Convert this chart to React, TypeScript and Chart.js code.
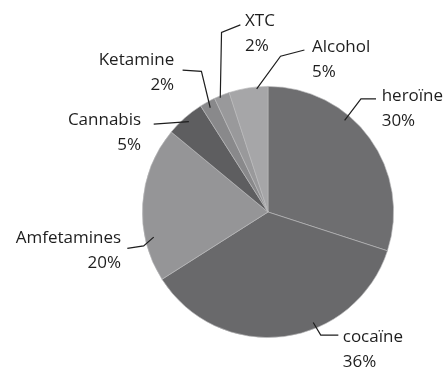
import React, { useEffect, useRef } from "react";
import { Chart, registerables } from "chart.js";

Chart.register(...registerables);

const categories = ["heroïne", "cocaïne", "Amfetamines", "Cannabis", "Ketamine", "XTC", "Alcohol"];
const values = [30, 36, 20, 5, 2, 2, 5];
const valueLabels = ["30%", "36%", "20%", "5%", "2%", "2%", "5%"];
const colors = ["#6e6e70", "#69696b", "#959597", "#5e5e60", "#89898b", "#99999b", "#a6a6a8"];

// Leader-line and label layout, relative to the pie center, in units of the radius.
// pts: polyline points; text: anchor of the first text line; align: text alignment.
const layout = [
  { pts: [[0.61, -0.73], [0.74, -0.9], [0.86, -0.9]], text: [0.905, -0.92], align: "left" },
  { pts: [[0.36, 0.88], [0.42, 0.98], [0.56, 0.98]], text: [0.595, 1.0], align: "left" },
  { pts: [[-0.91, 0.2], [-0.99, 0.27], [-1.12, 0.29]], text: [-1.17, 0.21], align: "right" },
  { pts: [[-0.63, -0.72], [-0.91, -0.7]], text: [-1.01, -0.73], align: "right" },
  { pts: [[-0.46, -0.83], [-0.53, -1.12], [-0.68, -1.13]], text: [-0.747, -1.21], align: "right" },
  { pts: [[-0.38, -0.91], [-0.37, -1.43], [-0.22, -1.49]], text: [-0.183, -1.52], align: "left" },
  { pts: [[-0.09, -0.98], [0.1, -1.24], [0.29, -1.29]], text: [0.35, -1.31], align: "left" },
];

const labelPlugin = {
  id: "leaderLabels",
  afterDatasetsDraw(chart: any) {
    const ctx = chart.ctx;
    const meta = chart.getDatasetMeta(0);
    ctx.save();
    ctx.font = '17px "Open Sans", "Noto Sans", sans-serif';
    ctx.fillStyle = "#1e1e1e";
    ctx.strokeStyle = "#1e1e1e";
    ctx.lineWidth = 1.2;
    ctx.textBaseline = "middle";
    meta.data.forEach((arc: any, i: number) => {
      const { x: cx, y: cy, outerRadius: r } = arc.getProps(["x", "y", "outerRadius"], true);
      const l = layout[i];
      ctx.beginPath();
      l.pts.forEach((p: number[], k: number) => {
        const px = cx + p[0] * r;
        const py = cy + p[1] * r;
        if (k === 0) ctx.moveTo(px, py);
        else ctx.lineTo(px, py);
      });
      ctx.stroke();
      ctx.textAlign = l.align;
      const tx = cx + l.text[0] * r;
      const ty = cy + l.text[1] * r;
      ctx.fillText(categories[i], tx, ty);
      ctx.fillText(valueLabels[i], tx, ty + 25);
    });
    ctx.restore();
  },
};

export default function App() {
  const ref = useRef<HTMLCanvasElement>(null);
  useEffect(() => {
    const chart = new Chart(ref.current!, {
      type: "pie",
      data: {
        labels: categories,
        datasets: [
          {
            data: values,
            backgroundColor: colors,
            borderColor: "rgba(185,185,187,0.8)",
            borderWidth: 0.8,
          },
        ],
      },
      options: {
        animation: false,
        responsive: false,
        rotation: 0,
        layout: { padding: { left: 142, right: 53, top: 86, bottom: 36 } },
        plugins: { legend: { display: false }, tooltip: { enabled: false } },
      },
      plugins: [labelPlugin],
    });
    return () => chart.destroy();
  }, []);
  return (
    <div style={{ position: "fixed", left: 0, top: 0, width: 447, height: 374, background: "#fff" }}>
      <canvas ref={ref} width={447} height={374} style={{ width: 447, height: 374 }} />
    </div>
  );
}
